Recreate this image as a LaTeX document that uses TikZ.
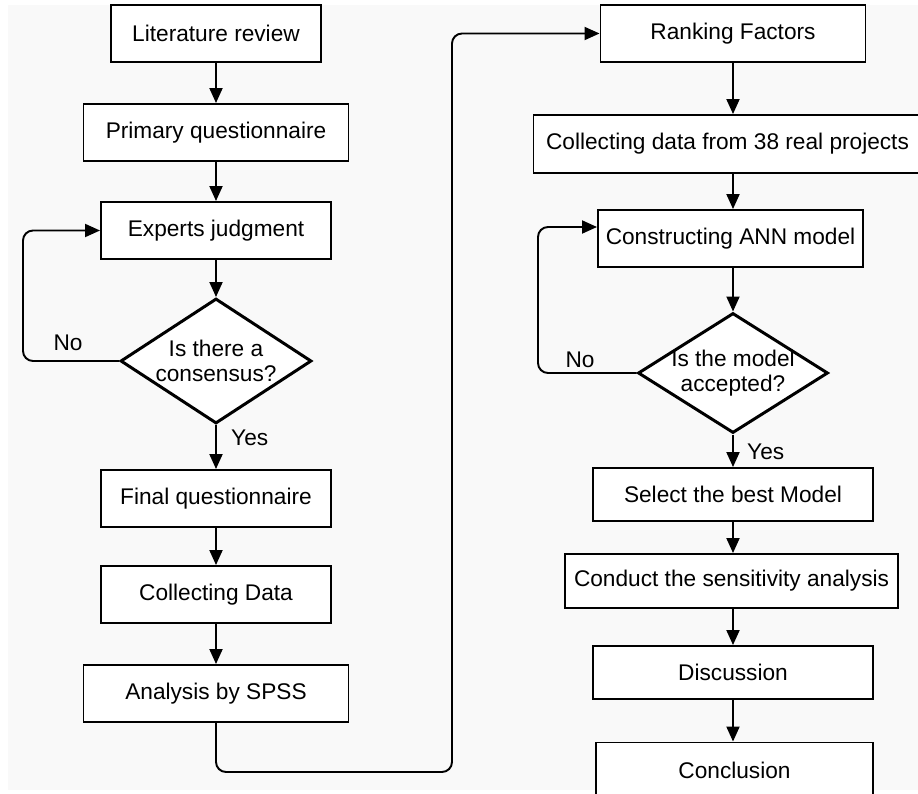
\documentclass[tikz,border=0pt]{standalone}
\usepackage{fontspec}
\setmainfont{Liberation Sans}
\usepackage{tikz}
\usetikzlibrary{arrows.meta,shapes.geometric}

\begin{document}
\begin{tikzpicture}[
  every node/.style={font=\fontsize{12.9}{14.5}\selectfont},
  stepbox/.style={draw, line width=1.1pt, fill=white, minimum height=1.14cm, inner sep=0pt},
  decision/.style={draw, diamond, line width=1.7pt, fill=white, inner sep=0pt},
  flow/.style={line width=1.1pt, -{Triangle[length=0.3cm,width=0.26cm]}},
  loop/.style={flow, rounded corners=0.2cm}]
%%%%% Page %%%%%
\useasboundingbox (0,0) rectangle (18.36,-15.88);
\clip (0,0) rectangle (18.36,-15.88);
\fill[white] (0,0) rectangle (18.36,-15.88);
\fill[gray!5] (0.16,-0.1) rectangle (18.5,-15.8);

%%%%% Left column %%%%%
\node[stepbox, minimum width=4.2cm] (lit) at (4.32,-0.67) {Literature review};
\node[stepbox, minimum width=5.3cm] (prim) at (4.32,-2.65) {Primary questionnaire};
\node[stepbox, minimum width=4.6cm] (expert) at (4.32,-4.61) {Experts judgment};
\node[decision, minimum width=3.82cm, minimum height=2.5cm] (q1) at (4.32,-7.22) {};
\node[align=center] (q1text) at (q1) {Is there a\\consensus?};
\node[stepbox, minimum width=4.6cm] (final) at (4.32,-9.97) {Final questionnaire};
\node[stepbox, minimum width=4.6cm] (colldata) at (4.32,-11.89) {Collecting Data};
\node[stepbox, minimum width=5.3cm] (spss) at (4.32,-13.87) {Analysis by SPSS};

\node (no1) at (1.36,-6.86) {No};
\node[anchor=west] (yes1) at (4.5,-8.76) {Yes};

\draw[flow] (lit) -- (prim);
\draw[flow] (prim) -- (expert);
\draw[flow] (expert) -- (q1);
\draw[flow] (q1) -- (final);
\draw[flow] (final) -- (colldata);
\draw[flow] (colldata) -- (spss);
\coordinate (back1) at (0.46,-7.22);
\draw[loop] (q1.west) -- (back1) |- (expert.west);

%%%%% Right column %%%%%
\node[stepbox, minimum width=5.3cm] (rank) at (14.66,-0.67) {Ranking Factors};
\node[stepbox, minimum width=7.76cm, minimum height=1.16cm] (proj) at (14.55,-2.88) {Collecting data from 38 real projects};
\node[stepbox, minimum width=5.3cm] (ann) at (14.61,-4.77) {Constructing ANN model};
\node[decision, minimum width=3.8cm, minimum height=2.4cm] (q2) at (14.66,-7.46) {};
\node[align=center] (q2text) at (q2) {Is the model\\accepted?};
\node[stepbox, minimum width=5.6cm, minimum height=1.06cm] (best) at (14.66,-9.89) {Select the best Model};
\node[stepbox, minimum width=6.66cm, minimum height=1.08cm] (sens) at (14.63,-11.62) {Conduct the sensitivity analysis};
\node[stepbox, minimum width=5.6cm, minimum height=1.06cm] (disc) at (14.66,-13.45) {Discussion};
\node[stepbox, minimum width=5.54cm, minimum height=1.1cm] (concl) at (14.69,-15.4) {Conclusion};

\node (no2) at (11.6,-7.2) {No};
\node[anchor=west] (yes2) at (14.82,-9.04) {Yes};

\draw[flow] (rank.south -| q2) -- (proj.north -| q2);
\draw[flow] (proj.south -| q2) -- (ann.north -| q2);
\draw[flow] (ann.south -| q2) -- (q2);
\draw[flow] (q2) -- (best);
\draw[flow] (best.south -| q2) -- (sens.north -| q2);
\draw[flow] (sens.south -| q2) -- (disc.north -| q2);
\draw[flow] (disc.south -| q2) -- (concl.north -| q2);
\coordinate (back2) at (10.76,-7.46);
\draw[loop] (q2.west) -- (back2) |- ([yshift=0.23cm]ann.west);

%%%%% Link between columns %%%%%
\coordinate (link) at (9.04,-15.44);
\draw[loop] (spss.south) |- (link) |- (rank.west);
\end{tikzpicture}
\end{document}
